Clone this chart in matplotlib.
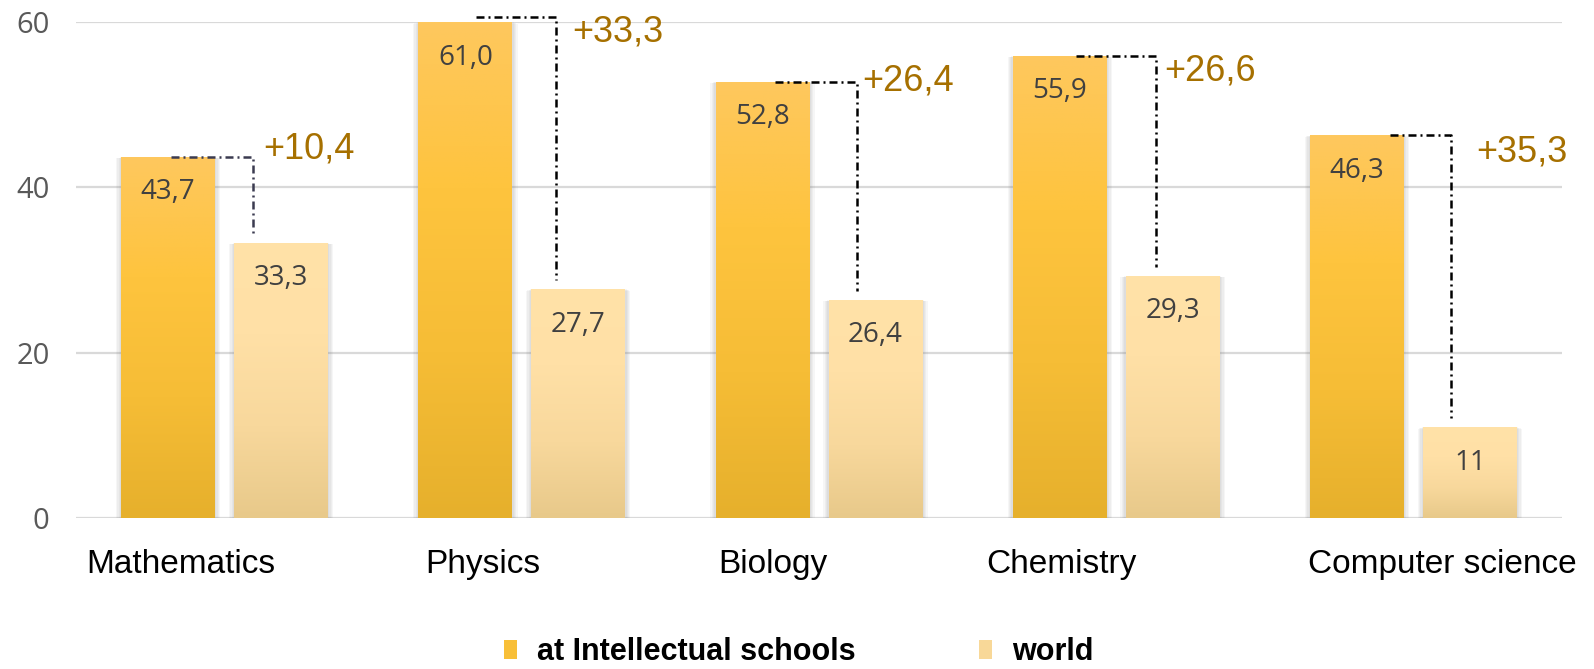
import numpy as np
import matplotlib.pyplot as plt
from matplotlib.colors import LinearSegmentedColormap
from matplotlib.patches import Rectangle, Patch
from matplotlib.transforms import blended_transform_factory

# data
categories = ["Mathematics", "Physics", "Biology", "Chemistry", "Computer science"]
intellectual = [43.7, 61.0, 52.8, 55.9, 46.3]
world = [33.3, 27.7, 26.4, 29.3, 11]
series_names = ["at Intellectual schools", "world"]
yticks = [0, 20, 40, 60]

# style / placement (per group, in group units)
label_dx = [-0.466, -0.326, -0.340, -0.438, -0.356]
line_x0 = [-0.180, -0.154, -0.148, -0.135, -0.079]
line_x1 = [0.096, 0.115, 0.128, 0.134, 0.127]
delta_dx = [0.129, 0.169, 0.145, 0.161, 0.211]
delta_dy = [0.9, -2.2, 0.1, -1.8, -2.0]
line_colors = ["#3b3b50", "black", "black", "black", "black"]

NARROW = ["Liberation Sans", "DejaVu Sans"]
NUMF = ["Open Sans", "DejaVu Sans"]


def fmt(v):
    if isinstance(v, int):
        return str(v)
    return f"{v:.1f}".replace(".", ",")


dark_cmap = LinearSegmentedColormap.from_list(
    "dark", ["#e6b02c", "#f6bd36", "#fec43e", "#fec85e"])
light_cmap = LinearSegmentedColormap.from_list(
    "light", ["#e8c98a", "#f8d89c", "#ffe0a6", "#ffe2a8"])

fig = plt.figure(figsize=(15.94, 6.69), dpi=100)
ax = fig.add_axes([0.0477, 0.2257, 0.9322, 0.7414])

x = np.arange(len(categories))
w = 0.316
off = 0.19
ymax = 60

bars_a = ax.bar(x - off, intellectual, w, color="#fec43e", zorder=2)
bars_b = ax.bar(x + off, world, w, color="#fddc9e", zorder=2)

grad = np.linspace(0, 1, 256).reshape(-1, 1)
px_x = 1 / 297.2
px_y = 1 / 8.267
for bars, cmap in ((bars_a, dark_cmap), (bars_b, light_cmap)):
    for b in bars:
        bx, bw, bh = b.get_x(), b.get_width(), b.get_height()
        # soft shadow
        for k in range(1, 5):
            pad = k * 1.3
            sh = Rectangle((bx - pad * px_x, -pad * px_y * 0.6),
                           bw + 2 * pad * px_x, min(bh, ymax) + pad * px_y * 0.3,
                           facecolor="#808080", edgecolor="none",
                           alpha=0.07, zorder=1.5)
            ax.add_patch(sh)
        im = ax.imshow(grad, cmap=cmap, origin="lower", aspect="auto",
                       extent=[bx, bx + bw, 0, min(bh, ymax)], zorder=2.5)
        im.set_clip_path(b)

# value labels inside bars
for i in range(len(categories)):
    ax.text(x[i] - off, min(intellectual[i], ymax) - 4.3, fmt(intellectual[i]),
            ha="center", va="center", fontsize=20, color="#404040",
            family=NUMF, zorder=5)
    ax.text(x[i] + off, min(world[i], ymax) - 4.3, fmt(world[i]),
            ha="center", va="center", fontsize=20, color="#404040",
            family=NUMF, zorder=5)

# difference connectors
for i in range(len(categories)):
    xa = x[i] + line_x0[i]
    xb = x[i] + line_x1[i]
    ytop = min(intellectual[i], ymax + 0.6)
    ax.plot([xa, xb, xb], [ytop, ytop, world[i] + 1.1],
            color=line_colors[i], lw=1.8, ls=(0, (3.2, 1.6, 0.8, 1.6)),
            clip_on=False, zorder=4)
    delta = round(intellectual[i] - world[i], 1)
    ax.text(x[i] + delta_dx[i], intellectual[i] + delta_dy[i],
            "+" + f"{delta:.1f}".replace(".", ","),
            ha="left", va="center", fontsize=26, color="#a67000",
            family=NARROW, zorder=5, clip_on=False)

ax.set_xlim(-0.5, len(categories) - 0.5)
ax.set_ylim(0, ymax)
ax.set_yticks(yticks)
ax.set_yticklabels([str(t) for t in yticks], family=NUMF, fontsize=21,
                   color="#595959")
ax.tick_params(axis="y", length=0, pad=19)
ax.set_xticks([])
ax.yaxis.grid(True, color="#d9d9d9", lw=1.6)
ax.set_axisbelow(True)
for s in ax.spines.values():
    s.set_visible(False)

trans = blended_transform_factory(ax.transData, ax.transAxes)
for i, name in enumerate(categories):
    ax.text(x[i] + label_dx[i], -0.111, name, transform=trans,
            ha="left", va="baseline", fontsize=24, family=NARROW,
            color="black", clip_on=False)

handles = [Patch(facecolor="#f8bf38", edgecolor="none"),
           Patch(facecolor="#f8d898", edgecolor="none")]
fig.legend(handles, series_names, loc="center left",
           bbox_to_anchor=(504 / 1594, 0.025), ncol=2, frameon=False,
           prop=dict(family=NARROW, weight="bold", size=22),
           handlelength=0.425, handleheight=0.556, handletextpad=0.65,
           columnspacing=4.05, borderpad=0, borderaxespad=0)

fig.savefig("out.png", dpi=100)
